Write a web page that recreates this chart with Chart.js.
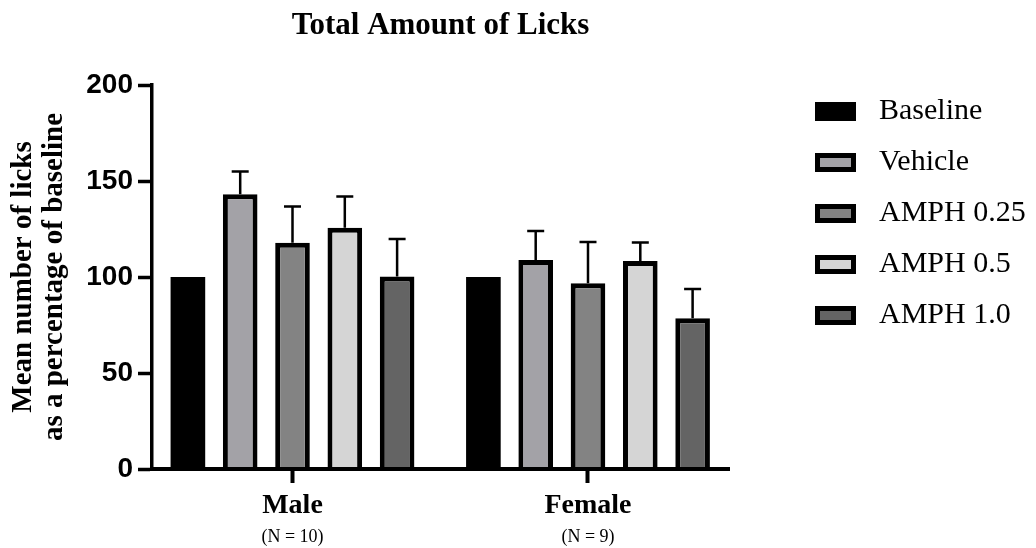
<!DOCTYPE html>
<html>
<head>
<meta charset="utf-8">
<title>Total Amount of Licks</title>
<script src="https://cdn.jsdelivr.net/npm/chart.js@4/dist/chart.umd.min.js"></script>
<style>
  html, body { margin: 0; padding: 0; background: #ffffff; }
  #wrap { width: 1036px; height: 548px; }
</style>
</head>
<body>
<div id="wrap"><canvas id="licks" width="1036" height="548"></canvas></div>
<script>
// ---- data -------------------------------------------------------------
const groups = ['Male', 'Female'];
const groupSizes = ['(N = 10)', '(N = 9)'];
const treatments = ['Baseline', 'Vehicle', 'AMPH 0.25', 'AMPH 0.5', 'AMPH 1.0'];
const maleMean = [100, 143.1, 117.9, 125.7, 100.2];
const maleSem = [0, 11.9, 18.8, 16.2, 19.6];
const femaleMean = [100, 108.9, 96.7, 108.3, 78.5];
const femaleSem = [0, 15.1, 21.5, 9.7, 15.2];
const yTicks = [0, 50, 100, 150, 200];

// ---- styling ----------------------------------------------------------
const fills = ['#000000', '#a3a2a7', '#838383', '#d5d5d5', '#646464'];
const SERIF = '"Liberation Serif", "Times New Roman", Times, serif';
const SANS = '"Liberation Sans", Arial, Helvetica, sans-serif';

const datasets = treatments.map((name, i) => ({
  label: name,
  data: [{ x: 0, y: maleMean[i] }, { x: 1, y: femaleMean[i] }],
  sem: [maleSem[i], femaleSem[i]],
  backgroundColor: fills[i],
  borderColor: '#000000',
  borderWidth: i === 0 ? 0 : 5,
  borderSkipped: 'start',
  categoryPercentage: 0.885,
  barPercentage: 0.662
}));

// upward SEM whiskers with a flat cap
const errorBars = {
  id: 'errorBars',
  afterDatasetsDraw(chart) {
    const { ctx } = chart;
    const y = chart.scales.y;
    ctx.save();
    ctx.strokeStyle = '#000000';
    ctx.lineWidth = 2.5;
    chart.data.datasets.forEach((ds, di) => {
      chart.getDatasetMeta(di).data.forEach((bar, j) => {
        const sem = ds.sem[j];
        if (!sem) return;
        const top = y.getPixelForValue(ds.data[j].y + sem);
        ctx.beginPath();
        ctx.moveTo(bar.x, bar.y);
        ctx.lineTo(bar.x, top);
        ctx.moveTo(bar.x - 8.5, top);
        ctx.lineTo(bar.x + 8.5, top);
        ctx.stroke();
      });
    });
    ctx.restore();
  }
};

// group sizes printed under the category names
const groupSizeLabels = {
  id: 'groupSizeLabels',
  afterDraw(chart) {
    const { ctx } = chart;
    const x = chart.scales.x;
    ctx.save();
    ctx.fillStyle = '#000000';
    ctx.font = '18px ' + SERIF;
    ctx.textAlign = 'center';
    ctx.textBaseline = 'middle';
    groupSizes.forEach((txt, i) => ctx.fillText(txt, x.getPixelForValue(i), 537));
    ctx.restore();
  }
};

// key on the right: outlined swatches followed by the treatment names
const sideLegend = {
  id: 'sideLegend',
  afterDraw(chart) {
    const { ctx } = chart;
    ctx.save();
    chart.data.datasets.forEach((ds, i) => {
      const cy = 111.5 + i * 51;
      ctx.fillStyle = '#000000';
      ctx.fillRect(815, cy - 9.5, 41, 19);
      if (ds.borderWidth) {
        ctx.fillStyle = ds.backgroundColor;
        ctx.fillRect(820, cy - 4.5, 31, 9);
      }
      ctx.fillStyle = '#000000';
      ctx.font = '30px ' + SERIF;
      ctx.textAlign = 'left';
      ctx.textBaseline = 'middle';
      ctx.fillText(ds.label, 879, cy);
    });
    ctx.restore();
  }
};

new Chart(document.getElementById('licks'), {
  type: 'bar',
  data: { datasets },
  plugins: [errorBars, groupSizeLabels, sideLegend],
  options: {
    responsive: false,
    animation: false,
    devicePixelRatio: 1,
    layout: { padding: { left: 0, right: 307, top: 0, bottom: 0 } },
    plugins: {
      legend: { display: false },
      tooltip: { enabled: false },
      title: {
        display: true,
        text: 'Total Amount of Licks',
        fullSize: false,
        color: '#000000',
        font: { family: SERIF, size: 31, weight: 'bold', lineHeight: 1.2 },
        padding: { top: 7, bottom: 40.8 }
      }
    },
    scales: {
      x: {
        type: 'linear',
        offset: false,
        min: -0.47547,
        max: 1.47716,
        afterFit(s) { s.height = 79; },
        ticks: {
          stepSize: 1,
          includeBounds: false,
          autoSkip: false,
          maxRotation: 0,
          padding: 6,
          color: '#000000',
          font: { family: SERIF, size: 28, weight: 'bold', lineHeight: 1.2 },
          callback: v => (groups[v] !== undefined ? groups[v] : '')
        },
        grid: {
          display: true,
          offset: false,
          drawOnChartArea: false,
          drawTicks: true,
          tickLength: 14,
          tickWidth: 4,
          tickColor: '#000000'
        },
        border: { display: true, color: '#000000', width: 4, z: 1 }
      },
      y: {
        min: 0,
        max: 200,
        afterFit(s) { s.width = 152; },
        afterBuildTicks(s) { s.ticks = yTicks.map(v => ({ value: v })); },
        ticks: {
          padding: 5,
          color: '#000000',
          font: { family: SANS, size: 28, weight: 'bold' }
        },
        grid: {
          display: true,
          drawOnChartArea: false,
          drawTicks: true,
          tickLength: 14,
          tickWidth: 3.5,
          tickColor: '#000000'
        },
        border: { display: true, color: '#000000', width: 3.5, z: 1 },
        title: {
          display: true,
          text: ['Mean number of licks', 'as a percentage of baseline'],
          color: '#000000',
          font: { family: SERIF, size: 29, weight: 'bold', lineHeight: 1.07 },
          padding: { top: 8, bottom: 0 }
        }
      }
    }
  }
});
</script>
</body>
</html>
